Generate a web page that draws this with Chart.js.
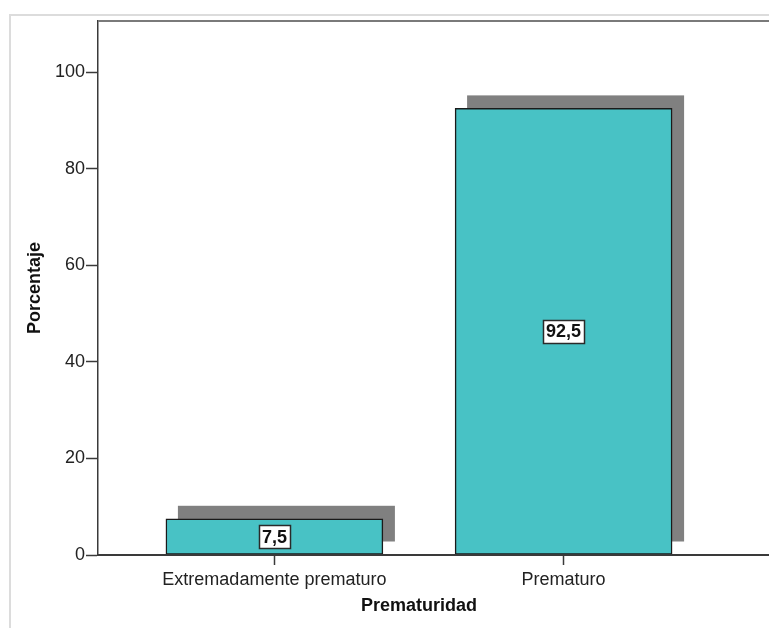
<!DOCTYPE html>
<html>
<head>
<meta charset="utf-8">
<script src="https://cdn.jsdelivr.net/npm/chart.js@4.4.1/dist/chart.umd.min.js"></script>
<style>
	html, body { margin: 0; padding: 0; background: #fff; }
	canvas { display: block; }
</style>
</head>
<body>
<canvas id="prematuridadChart" width="769" height="628"></canvas>
<script>
const categories = ["Extremadamente prematuro", "Prematuro"];
const percentages = [7.5, 92.5];
const yTicks = [0, 20, 40, 60, 80, 100];

const FONT = "'Liberation Sans', Arial, sans-serif";
const TEXT = "#222";
const AXIS = "#3a3a3a";

// light grey outer frame plus the top rule and the x axis running to the edge
const framePlugin = {
	id: "frame",
	beforeDraw(chart) {
		const ctx = chart.ctx;
		ctx.save();
		ctx.strokeStyle = "#dcdcdc";
		ctx.lineWidth = 2;
		ctx.beginPath();
		ctx.moveTo(10, chart.height);
		ctx.lineTo(10, 15);
		ctx.lineTo(chart.width, 15);
		ctx.stroke();
		ctx.restore();
	},
	afterDraw(chart) {
		const ctx = chart.ctx;
		const area = chart.chartArea;
		ctx.save();
		ctx.strokeStyle = "#7a7a7a";
		ctx.lineWidth = 2;
		ctx.beginPath();
		ctx.moveTo(area.left, area.top);
		ctx.lineTo(chart.width, area.top);
		ctx.stroke();
		ctx.strokeStyle = AXIS;
		ctx.lineWidth = 2;
		ctx.beginPath();
		ctx.moveTo(area.left, area.bottom);
		ctx.lineTo(chart.width, area.bottom);
		ctx.stroke();
		ctx.restore();
	}
};

// grey drop shadow behind each bar
const shadowPlugin = {
	id: "barShadow",
	beforeDatasetsDraw(chart) {
		const ctx = chart.ctx;
		ctx.save();
		ctx.fillStyle = "#808080";
		chart.getDatasetMeta(0).data.forEach((bar) => {
			const p = bar.getProps(["x", "y", "base", "width"], true);
			ctx.fillRect(p.x - p.width / 2 + 12, p.y - 13, p.width, p.base - p.y);
		});
		ctx.restore();
	}
};

// boxed value in the middle of each bar
const valueLabelPlugin = {
	id: "valueLabels",
	afterDatasetsDraw(chart) {
		const ctx = chart.ctx;
		ctx.save();
		ctx.font = "bold 18px " + FONT;
		ctx.textAlign = "center";
		ctx.textBaseline = "middle";
		chart.getDatasetMeta(0).data.forEach((bar, i) => {
			const p = bar.getProps(["x", "y", "base"], true);
			const text = String(percentages[i]).replace(".", ",");
			const w = Math.round(ctx.measureText(text).width + 6);
			const h = 23;
			const cy = (p.y + p.base) / 2;
			const bx = Math.round(p.x - w / 2) + 0.5;
			const by = Math.round(cy - h / 2) + 0.5;
			ctx.fillStyle = "#fff";
			ctx.fillRect(bx, by, w, h);
			ctx.strokeStyle = "#2a2a2a";
			ctx.lineWidth = 1.5;
			ctx.strokeRect(bx, by, w, h);
			ctx.fillStyle = "#111";
			ctx.fillText(text, p.x, cy + 1);
		});
		ctx.restore();
	}
};

new Chart(document.getElementById("prematuridadChart"), {
	type: "bar",
	data: {
		datasets: [{
			data: percentages.map((v, i) => ({ x: i, y: v })),
			backgroundColor: "#48c2c5",
			borderColor: "#1a1a1a",
			borderWidth: 1.5,
			borderSkipped: false,
			barThickness: 217
		}]
	},
	options: {
		responsive: false,
		animation: false,
		layout: { padding: { top: 21, right: 29, left: 0, bottom: 0 } },
		plugins: {
			legend: { display: false },
			tooltip: { enabled: false }
		},
		scales: {
			x: {
				type: "linear",
				offset: false,
				min: -0.61,
				max: 1.61,
				afterBuildTicks: (scale) => {
					scale.ticks = categories.map((c, i) => ({ value: i }));
				},
				afterFit: (scale) => { scale.height = 73; },
				ticks: {
					autoSkip: false,
					maxRotation: 0,
					padding: 4,
					color: TEXT,
					font: { family: FONT, size: 18 },
					callback: (v) => categories[v]
				},
				grid: { offset: false, drawOnChartArea: false, tickLength: 10, tickColor: AXIS, tickWidth: 1.5 },
				border: { color: AXIS, width: 1.5 },
				title: {
					display: true,
					text: "Prematuridad",
					color: "#111",
					font: { family: FONT, size: 18, weight: "bold" },
					padding: { top: 0, bottom: 11 }
				}
			},
			y: {
				min: 0,
				max: 110.6,
				afterBuildTicks: (scale) => {
					scale.ticks = yTicks.map((v) => ({ value: v }));
				},
				afterFit: (scale) => { scale.width = 98; },
				ticks: {
					padding: 1,
					color: TEXT,
					font: { family: FONT, size: 18 }
				},
				grid: { drawOnChartArea: false, tickLength: 12, tickColor: AXIS, tickWidth: 1.5 },
				border: { color: AXIS, width: 1.5 },
				title: {
					display: true,
					text: "Porcentaje",
					color: "#111",
					font: { family: FONT, size: 18, weight: "bold" },
					padding: { top: 24, bottom: 0 }
				}
			}
		}
	},
	plugins: [framePlugin, shadowPlugin, valueLabelPlugin]
});
</script>
</body>
</html>
